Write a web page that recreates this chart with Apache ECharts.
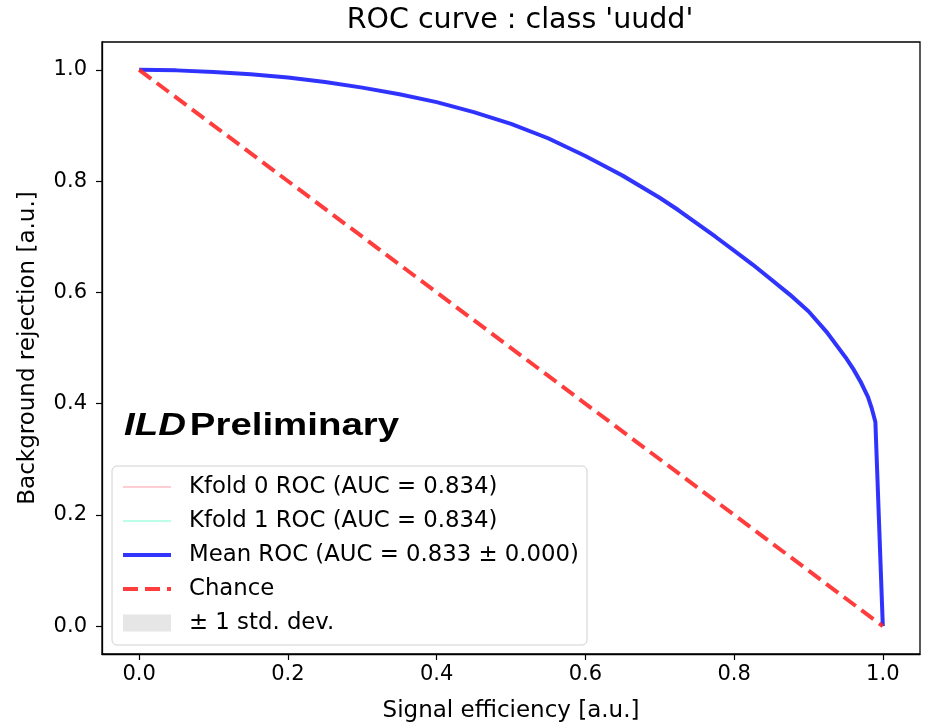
<!DOCTYPE html>
<html>
<head>
<meta charset="utf-8">
<script src="https://cdn.jsdelivr.net/npm/echarts@6/dist/echarts.min.js"></script>
<style>
html,body{margin:0;padding:0;background:#fff;}
#chart{width:928px;height:726px;}
</style>
</head>
<body>
<div id="chart"></div>
<script>
// ---- data ----
const titleText = "ROC curve : class 'uudd'";
const xAxisName = "Signal efficiency [a.u.]";
const yAxisName = "Background rejection [a.u.]";
const tickValues = [0.0, 0.2, 0.4, 0.6, 0.8, 1.0];

const meanX = [0.0, 0.05, 0.1, 0.15, 0.2, 0.25, 0.3, 0.35, 0.4, 0.45, 0.5, 0.55, 0.6, 0.65, 0.7, 0.725, 0.75, 0.775, 0.8, 0.825, 0.85, 0.875, 0.9, 0.925, 0.95, 0.96, 0.97, 0.98, 0.985, 0.99, 1.0];
const meanY = [1.0, 0.999, 0.996, 0.992, 0.986, 0.978, 0.968, 0.956, 0.942, 0.924, 0.903, 0.877, 0.845, 0.810, 0.770, 0.748, 0.724, 0.700, 0.675, 0.650, 0.623, 0.596, 0.566, 0.528, 0.483, 0.463, 0.440, 0.412, 0.392, 0.367, 0.0];

const kfold0X = [0.0, 0.1, 0.2, 0.3, 0.4, 0.5, 0.6, 0.7, 0.8, 0.9, 0.95, 0.98, 0.99, 0.992, 1.0];
const kfold0Y = [1.0, 0.996, 0.986, 0.968, 0.942, 0.904, 0.845, 0.768, 0.675, 0.565, 0.482, 0.410, 0.367, 0.300, 0.0];
const kfold1X = [0.0, 0.1, 0.2, 0.3, 0.4, 0.5, 0.6, 0.7, 0.8, 0.9, 0.95, 0.98, 0.99, 0.993, 1.0];
const kfold1Y = [1.0, 0.996, 0.986, 0.968, 0.942, 0.904, 0.845, 0.768, 0.675, 0.565, 0.482, 0.410, 0.367, 0.280, 0.0];

const chanceX = [0.0, 1.0];
const chanceY = [1.0, 0.0];

const legendNames = ["Kfold 0 ROC (AUC = 0.834)", "Kfold 1 ROC (AUC = 0.834)", "Mean ROC (AUC = 0.833 \u00b1 0.000)", "Chance", "\u00b1 1 std. dev."];

const pairs = (xs, ys) => xs.map((x, i) => [x, ys[i]]);

const chart = echarts.init(document.getElementById('chart'), null, {renderer: 'canvas'});
const FONT = 'DejaVu Sans';

const axisCommon = {
  type: 'value',
  min: -0.05,
  max: 1.05,
  splitLine: {show: false},
  axisLine: {show: true, onZero: false, lineStyle: {color: '#000', width: 1.3}},
  axisTick: {show: true, customValues: tickValues, length: 6, lineStyle: {color: '#000', width: 1.2}},
  axisLabel: {customValues: tickValues, formatter: v => v.toFixed(1), color: '#000', fontFamily: FONT, fontSize: 21},
  nameLocation: 'middle',
  nameTextStyle: {color: '#000', fontFamily: FONT, fontSize: 23}
};

const C_K0 = 'rgba(255,182,193,0.9)';
const C_K1 = 'rgba(127,255,212,0.7)';
const C_MEAN = 'rgba(30,30,255,0.9)';
const C_CH = 'rgba(255,40,40,0.9)';
const C_STD = '#e6e6e6';

chart.setOption({
  animation: false,
  backgroundColor: '#fff',
  title: {
    text: titleText,
    left: 515, top: 1, textAlign: 'center',
    textStyle: {fontFamily: FONT, fontSize: 28.5, fontWeight: 'normal', color: '#000'}
  },
  grid: {left: 102, right: 8, top: 42, bottom: 72, outerBoundsMode: 'none', containLabel: false,
         show: true, borderColor: '#000', borderWidth: 1.3, backgroundColor: 'transparent'},
  xAxis: Object.assign({}, axisCommon, {name: xAxisName, nameGap: 46,
    axisLabel: Object.assign({}, axisCommon.axisLabel, {margin: 10})}),
  yAxis: Object.assign({}, axisCommon, {name: yAxisName, nameGap: 62,
    axisLabel: Object.assign({}, axisCommon.axisLabel, {margin: 15})}),
  legend: {
    data: [
      {name: legendNames[0], itemStyle: {opacity: 0}, lineStyle: {width: 1.5, color: C_K0}},
      {name: legendNames[1], itemStyle: {opacity: 0}, lineStyle: {width: 1.5, color: C_K1}},
      {name: legendNames[2], itemStyle: {opacity: 0}, lineStyle: {width: 4, color: C_MEAN}},
      {name: legendNames[3], itemStyle: {opacity: 0}, lineStyle: {width: 4, color: C_CH, type: [15, 7]}},
      {name: legendNames[4], icon: 'rect', itemStyle: {color: C_STD, opacity: 1}}
    ],
    orient: 'vertical',
    left: 112, top: 466,
    padding: [8, 8, 9, 9],
    itemWidth: 48, itemHeight: 17, itemGap: 8,
    borderColor: '#d0d0d0', borderWidth: 1, borderRadius: 5,
    backgroundColor: 'rgba(255,255,255,0.8)',
    selectedMode: false,
    textStyle: {fontFamily: FONT, fontSize: 22.8, color: '#000', lineHeight: 26, padding: [0, 0, 0, 13]}
  },
  graphic: [{
    type: 'text',
    left: 124, top: 410,
    scaleX: 1.2,
    style: {
      text: '{i|ILD} {b|Preliminary}',
      rich: {
        i: {fontFamily: 'Liberation Sans', fontSize: 32, fontWeight: 'bold', fontStyle: 'italic', fill: '#000'},
        b: {fontFamily: 'Liberation Sans', fontSize: 32, fontWeight: 'bold', fill: '#000'}
      }
    }
  }],
  series: [
    {name: legendNames[0], type: 'line', data: pairs(kfold0X, kfold0Y), showSymbol: false, symbol: 'none',
     lineStyle: {color: C_K0, width: 1.5}, itemStyle: {color: C_K0}, z: 2},
    {name: legendNames[1], type: 'line', data: pairs(kfold1X, kfold1Y), showSymbol: false, symbol: 'none',
     lineStyle: {color: C_K1, width: 1.5}, itemStyle: {color: C_K1}, z: 2},
    {name: legendNames[4], type: 'bar', data: [], itemStyle: {color: C_STD}, z: 1},
    {name: legendNames[2], type: 'line', data: pairs(meanX, meanY), showSymbol: false, symbol: 'none',
     lineStyle: {color: C_MEAN, width: 4}, itemStyle: {color: C_MEAN}, z: 3},
    {name: legendNames[3], type: 'line', data: pairs(chanceX, chanceY), showSymbol: false, symbol: 'none',
     lineStyle: {color: C_CH, width: 4, type: [15, 7]}, itemStyle: {color: C_CH}, z: 4}
  ]
});
</script>
</body>
</html>
